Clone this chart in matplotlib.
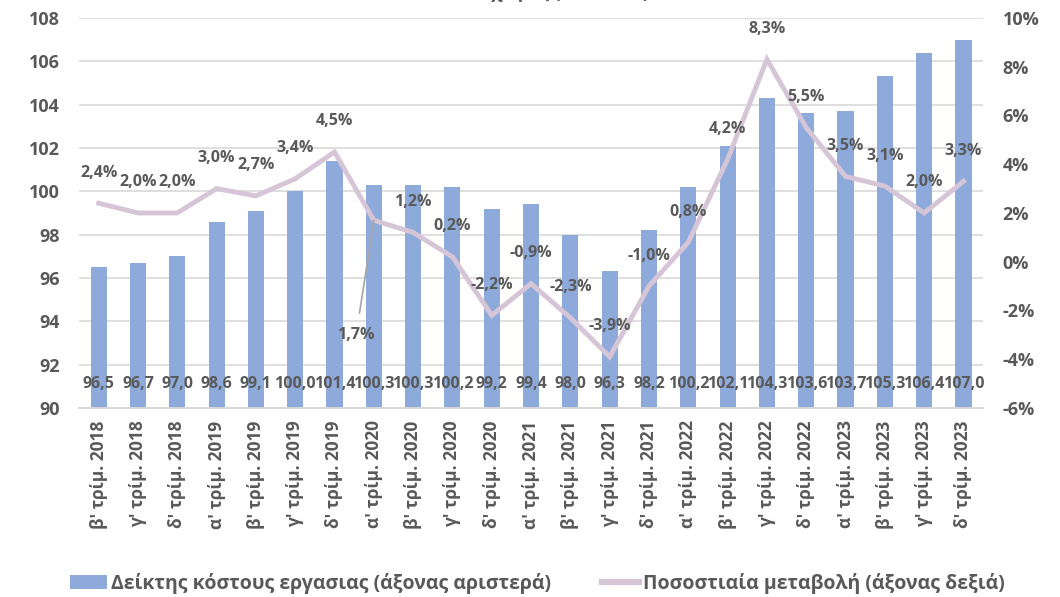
import matplotlib
matplotlib.use("Agg")
import matplotlib.pyplot as plt
import numpy as np
from matplotlib.lines import Line2D
from matplotlib.patches import Patch

plt.rcParams['font.family'] = ['Open Sans', 'DejaVu Sans']

categories = ["β' τρίμ. 2018", "γ' τρίμ. 2018", "δ' τρίμ. 2018",
              "α' τρίμ. 2019", "β' τρίμ. 2019", "γ' τρίμ. 2019", "δ' τρίμ. 2019",
              "α' τρίμ. 2020", "β' τρίμ. 2020", "γ' τρίμ. 2020", "δ' τρίμ. 2020",
              "α' τρίμ. 2021", "β' τρίμ. 2021", "γ' τρίμ. 2021", "δ' τρίμ. 2021",
              "α' τρίμ. 2022", "β' τρίμ. 2022", "γ' τρίμ. 2022", "δ' τρίμ. 2022",
              "α' τρίμ. 2023", "β' τρίμ. 2023", "γ' τρίμ. 2023", "δ' τρίμ. 2023"]
index_values = [96.5, 96.7, 97.0, 98.6, 99.1, 100.0, 101.4, 100.3, 100.3, 100.2, 99.2,
                99.4, 98.0, 96.3, 98.2, 100.2, 102.1, 104.3, 103.6, 103.7, 105.3, 106.4, 107.0]
pct_change = [2.4, 2.0, 2.0, 3.0, 2.7, 3.4, 4.5, 1.7, 1.2, 0.2, -2.2,
              -0.9, -2.3, -3.9, -1.0, 0.8, 4.2, 8.3, 5.5, 3.5, 3.1, 2.0, 3.3]
left_ticks = [90, 92, 94, 96, 98, 100, 102, 104, 106, 108]
right_ticks = [-6, -4, -2, 0, 2, 4, 6, 8, 10]
bar_label = "Δείκτης κόστους εργασιας (άξονας αριστερά)"
line_label = "Ποσοστιαία μεταβολή (άξονας δεξιά)"
title = "Σύνολο χώρας (2021=100)"

bar_color = "#8eaadb"
line_color = "#d6c5d6"
text_color = "#595959"

fig = plt.figure(figsize=(10.6, 5.97), dpi=100)
ax = fig.add_axes([0.0745, 0.3166, 0.853, 0.6534])
ax2 = ax.twinx()

x = np.arange(len(categories))
ax.bar(x, [v - 90 for v in index_values], bottom=90, width=0.41, color=bar_color, zorder=2)
ax.set_ylim(90, 108)
ax.set_yticks(left_ticks)
ax.set_xlim(-0.5, len(categories) - 0.5)
ax.set_xticks(x)
ax.set_xticklabels(categories, rotation=90, fontsize=12.5, fontweight='bold', color=text_color)
ax.set_yticklabels([str(t) for t in left_ticks], fontsize=13, fontweight='bold', color=text_color)
ax.grid(axis='y', color='#d9d9d9', linewidth=1.2, zorder=0)
ax.set_axisbelow(True)
for s in ['top', 'left', 'right']:
    ax.spines[s].set_visible(False)
ax.spines['bottom'].set_color('#d9d9d9')
ax.spines['bottom'].set_linewidth(1.4)
ax.tick_params(axis='y', length=0, pad=14)
ax.tick_params(axis='x', length=0, pad=9)

for xi, v in zip(x, index_values):
    ax.text(xi, 91.1, f"{v:.1f}".replace('.', ','), ha='center', va='center',
            fontsize=11.5, fontweight='bold', color=text_color, zorder=4)

ax2.plot(x, pct_change, color=line_color, linewidth=3.5, zorder=3, solid_joinstyle='miter')
ax2.set_ylim(-6, 10)
ax2.set_yticks(right_ticks)
ax2.set_yticklabels([f"{t}%" for t in right_ticks], fontsize=13, fontweight='bold', color=text_color)
for s in ['top', 'left', 'right', 'bottom']:
    ax2.spines[s].set_visible(False)
ax2.tick_params(axis='y', length=0, pad=14)

for i, (xi, p) in enumerate(zip(x, pct_change)):
    lbl = f"{p:.1f}%".replace('.', ',')
    if i == 7:
        ax2.annotate(lbl, xy=(xi, p), xytext=(xi - 0.45, -3.0), ha='center', va='center',
                     fontsize=11.5, fontweight='bold', color=text_color,
                     arrowprops=dict(arrowstyle='-', color='#a6a6a6', lw=1.2, shrinkA=8, shrinkB=0))
    else:
        ax2.annotate(lbl, xy=(xi, p), xytext=(0, 22), textcoords='offset points',
                     ha='center', va='center', fontsize=11.5, fontweight='bold', color=text_color)

handles = [Patch(facecolor=bar_color, edgecolor='none'),
           Line2D([0], [0], color=line_color, linewidth=4.5)]
fig.legend(handles, [bar_label, line_label], loc='center', bbox_to_anchor=(0.507, 0.023),
           ncol=2, frameon=False, prop={'weight': 'bold', 'size': 14}, labelcolor=text_color,
           columnspacing=2.6, handlelength=1.9, handletextpad=0.2, handleheight=0.7)

fig.text(0.505, 0.996, title, ha='center', va='bottom', fontsize=13, fontweight='bold', color=text_color)

fig.savefig("out.png", dpi=100)
